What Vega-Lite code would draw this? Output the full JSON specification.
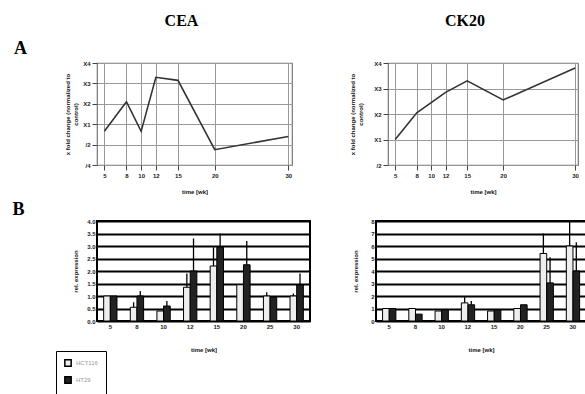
{
  "$schema": "https://vega.github.io/schema/vega-lite/v6.json",
  "padding": {"left": 12, "top": 12, "right": 0, "bottom": 0},
  "background": "white",
  "config": {
    "font": "Liberation Serif",
    "axis": {
      "labelFont": "Liberation Sans", "labelFontSize": 6, "labelFontWeight": "bold", "labelColor": "#222",
      "titleFont": "Liberation Sans", "titleFontSize": 6, "titleFontWeight": "bold", "titleColor": "#111",
      "tickColor": "#444", "domainColor": "#444", "labelOverlap": false
    }
  },
  "datasets": {
    "ceaLine": [
      {"wk": 5, "fold": 0.65}, {"wk": 8, "fold": 2.1}, {"wk": 10, "fold": 0.65}, {"wk": 12, "fold": 3.3},
      {"wk": 15, "fold": 3.15}, {"wk": 20, "fold": -0.25}, {"wk": 30, "fold": 0.4}
    ],
    "ck20Line": [
      {"wk": 5, "fold": 1.0}, {"wk": 8, "fold": 2.05}, {"wk": 12, "fold": 2.85}, {"wk": 15, "fold": 3.3},
      {"wk": 20, "fold": 2.55}, {"wk": 30, "fold": 3.8}
    ],
    "ceaBars": [
      {"wk": 5, "line": "HCT116", "v": 1.0, "hi": 1.0}, {"wk": 5, "line": "HT29", "v": 1.0, "hi": 1.0},
      {"wk": 8, "line": "HCT116", "v": 0.55, "hi": 0.75}, {"wk": 8, "line": "HT29", "v": 1.0, "hi": 1.2},
      {"wk": 10, "line": "HCT116", "v": 0.4, "hi": 0.4}, {"wk": 10, "line": "HT29", "v": 0.6, "hi": 0.8},
      {"wk": 12, "line": "HCT116", "v": 1.35, "hi": 1.9}, {"wk": 12, "line": "HT29", "v": 2.0, "hi": 3.3},
      {"wk": 15, "line": "HCT116", "v": 2.2, "hi": 2.95}, {"wk": 15, "line": "HT29", "v": 2.95, "hi": 3.5},
      {"wk": 20, "line": "HCT116", "v": 1.45, "hi": 1.45}, {"wk": 20, "line": "HT29", "v": 2.25, "hi": 3.2},
      {"wk": 25, "line": "HCT116", "v": 1.0, "hi": 1.15}, {"wk": 25, "line": "HT29", "v": 0.95, "hi": 1.0},
      {"wk": 30, "line": "HCT116", "v": 1.0, "hi": 1.1}, {"wk": 30, "line": "HT29", "v": 1.45, "hi": 1.9}
    ],
    "ck20Bars": [
      {"wk": 5, "line": "HCT116", "v": 1.0, "hi": 1.0}, {"wk": 5, "line": "HT29", "v": 1.0, "hi": 1.0},
      {"wk": 8, "line": "HCT116", "v": 1.0, "hi": 1.0}, {"wk": 8, "line": "HT29", "v": 0.55, "hi": 0.55},
      {"wk": 10, "line": "HCT116", "v": 0.8, "hi": 0.8}, {"wk": 10, "line": "HT29", "v": 0.9, "hi": 0.9},
      {"wk": 12, "line": "HCT116", "v": 1.45, "hi": 2.0}, {"wk": 12, "line": "HT29", "v": 1.3, "hi": 1.6},
      {"wk": 15, "line": "HCT116", "v": 0.8, "hi": 0.8}, {"wk": 15, "line": "HT29", "v": 0.9, "hi": 0.9},
      {"wk": 20, "line": "HCT116", "v": 1.0, "hi": 1.0}, {"wk": 20, "line": "HT29", "v": 1.3, "hi": 1.3},
      {"wk": 25, "line": "HCT116", "v": 5.4, "hi": 7.0}, {"wk": 25, "line": "HT29", "v": 3.05, "hi": 5.1},
      {"wk": 30, "line": "HCT116", "v": 6.0, "hi": 8.0}, {"wk": 30, "line": "HT29", "v": 4.0, "hi": 6.3}
    ]
  },
  "spacing": 6,
  "columns": 1,
  "align": "none",
  "concat": [
    {
      "title": {"text": "A", "orient": "left", "angle": 0, "anchor": "end", "frame": "group", "fontSize": 18, "fontWeight": "bold", "font": "Liberation Serif", "offset": 24, "dy": -23},
      "spacing": 56,
      "hconcat": [
        {
          "width": 195, "height": 102,
          "title": {"text": "CEA", "fontSize": 16, "fontWeight": "bold", "font": "Liberation Serif", "offset": 31, "dx": -13},
          "view": {"stroke": "#777", "strokeWidth": 1.2},
          "data": {"name": "ceaLine"},
          "mark": {"type": "line", "color": "#333", "strokeWidth": 1.6},
          "encoding": {
            "x": {"field": "wk", "type": "quantitative",
              "scale": {"domain": [4, 30.5], "nice": false, "zero": false},
              "axis": {"values": [5, 8, 10, 12, 15, 20, 30], "title": "time [wk]", "grid": true, "gridColor": "#999", "domain": false, "labelFlush": false, "titlePadding": 10}},
            "y": {"field": "fold", "type": "quantitative",
              "scale": {"domain": [-1, 4], "nice": false, "zero": false},
              "axis": {"values": [-1, 0, 1, 2, 3, 4], "grid": true, "gridColor": "#999", "domain": false,
                "labelExpr": "datum.value >= 1 ? 'X' + datum.value : (datum.value == 0 ? '/2' : '/4')",
                "title": ["x fold change (normalized to", "control)"], "titlePadding": 4}}
          }
        },
        {
          "width": 190, "height": 102,
          "title": {"text": "CK20", "fontSize": 16, "fontWeight": "bold", "font": "Liberation Serif", "offset": 31, "dx": -18},
          "view": {"stroke": "#777", "strokeWidth": 1.2},
          "data": {"name": "ck20Line"},
          "mark": {"type": "line", "color": "#333", "strokeWidth": 1.6},
          "encoding": {
            "x": {"field": "wk", "type": "quantitative",
              "scale": {"domain": [4, 30.4], "nice": false, "zero": false},
              "axis": {"values": [5, 8, 10, 12, 15, 20, 30], "title": "time [wk]", "grid": true, "gridColor": "#999", "domain": false, "labelFlush": false, "titlePadding": 10}},
            "y": {"field": "fold", "type": "quantitative",
              "scale": {"domain": [0, 4], "nice": false, "zero": false},
              "axis": {"values": [0, 1, 2, 3, 4], "grid": true, "gridColor": "#999", "domain": false,
                "labelExpr": "datum.value >= 1 ? 'X' + datum.value : '/2'",
                "title": ["x fold change (normalized to", "control)"], "titlePadding": 10}}
          }
        }
      ]
    },
    {
      "title": {"text": "B", "orient": "left", "angle": 0, "anchor": "end", "frame": "group", "fontSize": 18, "fontWeight": "bold", "font": "Liberation Serif", "offset": 18, "dy": -20},
      "spacing": 40,
      "resolve": {"scale": {"color": "independent"}, "legend": {"color": "independent"}},
      "hconcat": [
        {
          "width": 213, "height": 100,
          "view": {"stroke": "#000", "strokeWidth": 2},
          "data": {"name": "ceaBars"},
          "encoding": {
            "x": {"field": "wk", "type": "ordinal", "scale": {"paddingInner": 0.5, "paddingOuter": 0.25},
              "axis": {"title": "time [wk]", "labelAngle": 0, "domain": false, "ticks": false, "titlePadding": 17}},
            "xOffset": {"field": "line", "type": "nominal", "sort": ["HCT116", "HT29"]},
            "y": {"field": "v", "type": "quantitative", "scale": {"domain": [0, 4], "nice": false},
              "axis": {"values": [0, 0.5, 1, 1.5, 2, 2.5, 3, 3.5, 4], "format": ".1f", "grid": true, "gridColor": "#000", "gridWidth": 2, "domain": false, "ticks": false, "title": "rel. expression", "titlePadding": 8}}
          },
          "layer": [
            {
              "mark": {"type": "bar", "stroke": "#000", "strokeWidth": 1},
              "encoding": {
                "color": {"field": "line", "type": "nominal",
                  "scale": {"domain": ["HCT116", "HT29"], "range": ["#eeeeee", "#222222"]},
                  "legend": {"title": null, "orient": "none", "legendX": -41, "legendY": 130, "direction": "vertical",
                    "strokeColor": "#000", "padding": 8, "symbolType": "square", "symbolSize": 40,
                    "symbolStrokeColor": "#000", "symbolStrokeWidth": 1.5, "labelFontSize": 6, "labelFont": "Liberation Sans", "labelColor": "#999", "rowPadding": 3}}
              }
            },
            {
              "mark": {"type": "rule", "color": "#000", "strokeWidth": 1.3},
              "encoding": {"y2": {"field": "hi"}}
            }
          ]
        },
        {
          "width": 210, "height": 100,
          "view": {"stroke": "#000", "strokeWidth": 2},
          "data": {"name": "ck20Bars"},
          "encoding": {
            "x": {"field": "wk", "type": "ordinal", "scale": {"paddingInner": 0.5, "paddingOuter": 0.25},
              "axis": {"title": "time [wk]", "labelAngle": 0, "domain": false, "ticks": false, "titlePadding": 17}},
            "xOffset": {"field": "line", "type": "nominal", "sort": ["HCT116", "HT29"]},
            "y": {"field": "v", "type": "quantitative", "scale": {"domain": [0, 8], "nice": false},
              "axis": {"values": [0, 1, 2, 3, 4, 5, 6, 7, 8], "grid": true, "gridColor": "#000", "gridWidth": 2, "domain": false, "ticks": false, "title": "rel. expression", "titlePadding": 12}}
          },
          "layer": [
            {
              "mark": {"type": "bar", "stroke": "#000", "strokeWidth": 1},
              "encoding": {
                "color": {"field": "line", "type": "nominal",
                  "scale": {"domain": ["HCT116", "HT29"], "range": ["#eeeeee", "#222222"]},
                  "legend": null}
              }
            },
            {
              "mark": {"type": "rule", "color": "#000", "strokeWidth": 1.3},
              "encoding": {"y2": {"field": "hi"}}
            }
          ]
        }
      ]
    }
  ]
}
